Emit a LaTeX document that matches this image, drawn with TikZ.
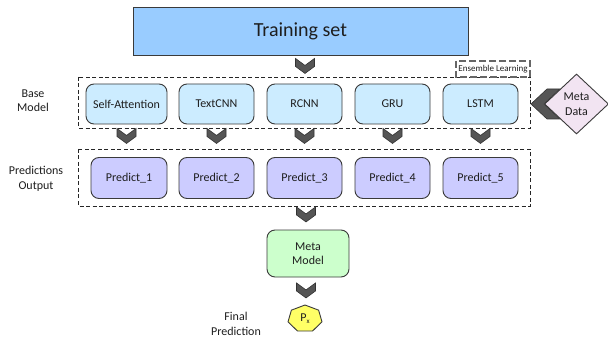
\documentclass[tikz,border=0pt]{standalone}
\usepackage{fontspec}
\setmainfont{Carlito}
\usetikzlibrary{shapes.geometric,calc}
\definecolor{trainfill}{HTML}{99CCFF}
\definecolor{basefill}{HTML}{CCECFF}
\definecolor{predfill}{HTML}{CCCCFF}
\definecolor{metafill}{HTML}{CCFFCC}
\definecolor{datafill}{HTML}{F2E4F2}
\definecolor{pxfill}{HTML}{FFFF66}
\definecolor{chevfill}{HTML}{555555}
\definecolor{edge}{HTML}{3A3A3A}
\definecolor{txt}{HTML}{1E1E1E}
\tikzset{
  basetext/.style={font=\fontsize{12}{14.6}\selectfont, text=txt, align=center},
  rbox/.style={basetext, draw=edge, line width=0.9pt, rounded corners=8pt, inner sep=0pt, minimum height=40pt, minimum width=75pt},
  basebox/.style={rbox, fill=basefill},
  predbox/.style={rbox, fill=predfill, minimum height=41pt},
  lbl/.style={basetext},
  chev/.style={fill=chevfill, draw=black!80, line width=0.6pt, line join=miter},
  grp/.style={draw=black!85, dashed, dash pattern=on 4pt off 2.5pt, line width=0.9pt},
  tabgrp/.style={draw=black!60, dash pattern=on 7pt off 3pt, line width=1.2pt},
  chevdown/.pic={\path[chev] (-9.5,-7.5) -- (0,-0.5) -- (9.5,-7.5) -- (9.5,0.5) -- (0,7.5) -- (-9.5,0.5) -- cycle;},
  chevleft/.pic={\path[chev] (-14.5,0) -- (1.5,-15) -- (14.5,-15) -- (-1.5,0) -- (14.5,15) -- (1.5,15) -- cycle;}
}
\begin{document}
\begin{tikzpicture}[x=1pt,y=-1pt]
\useasboundingbox[fill=white] (0,0) rectangle (608,342);

% training set
\node[draw=edge, line width=0.9pt, fill=trainfill, minimum width=335pt, minimum height=48pt, inner sep=0pt,
      font=\fontsize{20}{24}\selectfont, text=txt] (train) at (300.5,31) {Training set};

% group boxes
\draw[grp] (78,77) rectangle (530,128);
\draw[tabgrp] (456,61) rectangle (530,77);
\node[font=\fontsize{9}{10}\selectfont, text=txt, inner sep=0pt] (ens) at (493,69) {Ensemble Learning};
\draw[grp] (78,149) rectangle (530,206);

% base models
\node[basebox, minimum width=81pt] (sa) at (126.5,104) {Self-Attention};
\node[basebox] (tcnn) at (216.5,104) {TextCNN};
\node[basebox] (rcnn) at (304.5,104) {RCNN};
\node[basebox] (gru) at (392.5,104) {GRU};
\node[basebox] (lstm) at (480.5,104) {LSTM};

% predictions
\node[predbox, minimum width=76pt] (p1) at (129,178) {Predict\_1};
\node[predbox] (p2) at (216.5,178) {Predict\_2};
\node[predbox] (p3) at (304.5,178) {Predict\_3};
\node[predbox] (p4) at (392.5,178) {Predict\_4};
\node[predbox] (p5) at (480.5,178) {Predict\_5};

% meta model
\node[rbox, fill=metafill, minimum width=82pt, minimum height=47pt] (meta) at (308,253.5) {Meta\\Model};

% final prediction heptagon
\begin{scope}[shift={(305,318.7)}]
\draw[draw=edge, line width=0.9pt, fill=pxfill, line join=miter]
  (-90:17.4 and 13.7) \foreach \k in {1,...,6} { -- ({-90+\k*360/7}:17.4 and 13.7) } -- cycle;
\end{scope}
\node[basetext, inner sep=0pt] (px) at (305,318.7) {P\raisebox{-0.35ex}{\fontsize{7}{8}\selectfont x}};

% chevrons (connectors)
\pic at ($(train.south)+(4.5,10.5)$) {chevdown};
\foreach \a/\b in {sa/p1, tcnn/p2, rcnn/p3, gru/p4, lstm/p5}{
  \pic at ($(\a.south)+(0,11.5)$) {chevdown};
}
\pic at ($(p3.south)+(1.5,15.5)$) {chevdown};
\pic at ($(meta.south)+(-2,13)$) {chevdown};
\pic at (545.5,104) {chevleft};

% meta data diamond
\node[diamond, draw=edge, line width=0.9pt, fill=datafill, inner sep=0pt, minimum width=64pt, minimum height=60pt,
      basetext] (mdata) at (576.5,104) {Meta\\Data};

% side labels
\node[lbl] (lbase) at (33,100.5) {Base\\Model};
\node[lbl] (lpred) at (36,179) {Predictions\\Output};
\node[lbl] (lfinal) at (236,324) {Final\\Prediction};
\end{tikzpicture}
\end{document}
